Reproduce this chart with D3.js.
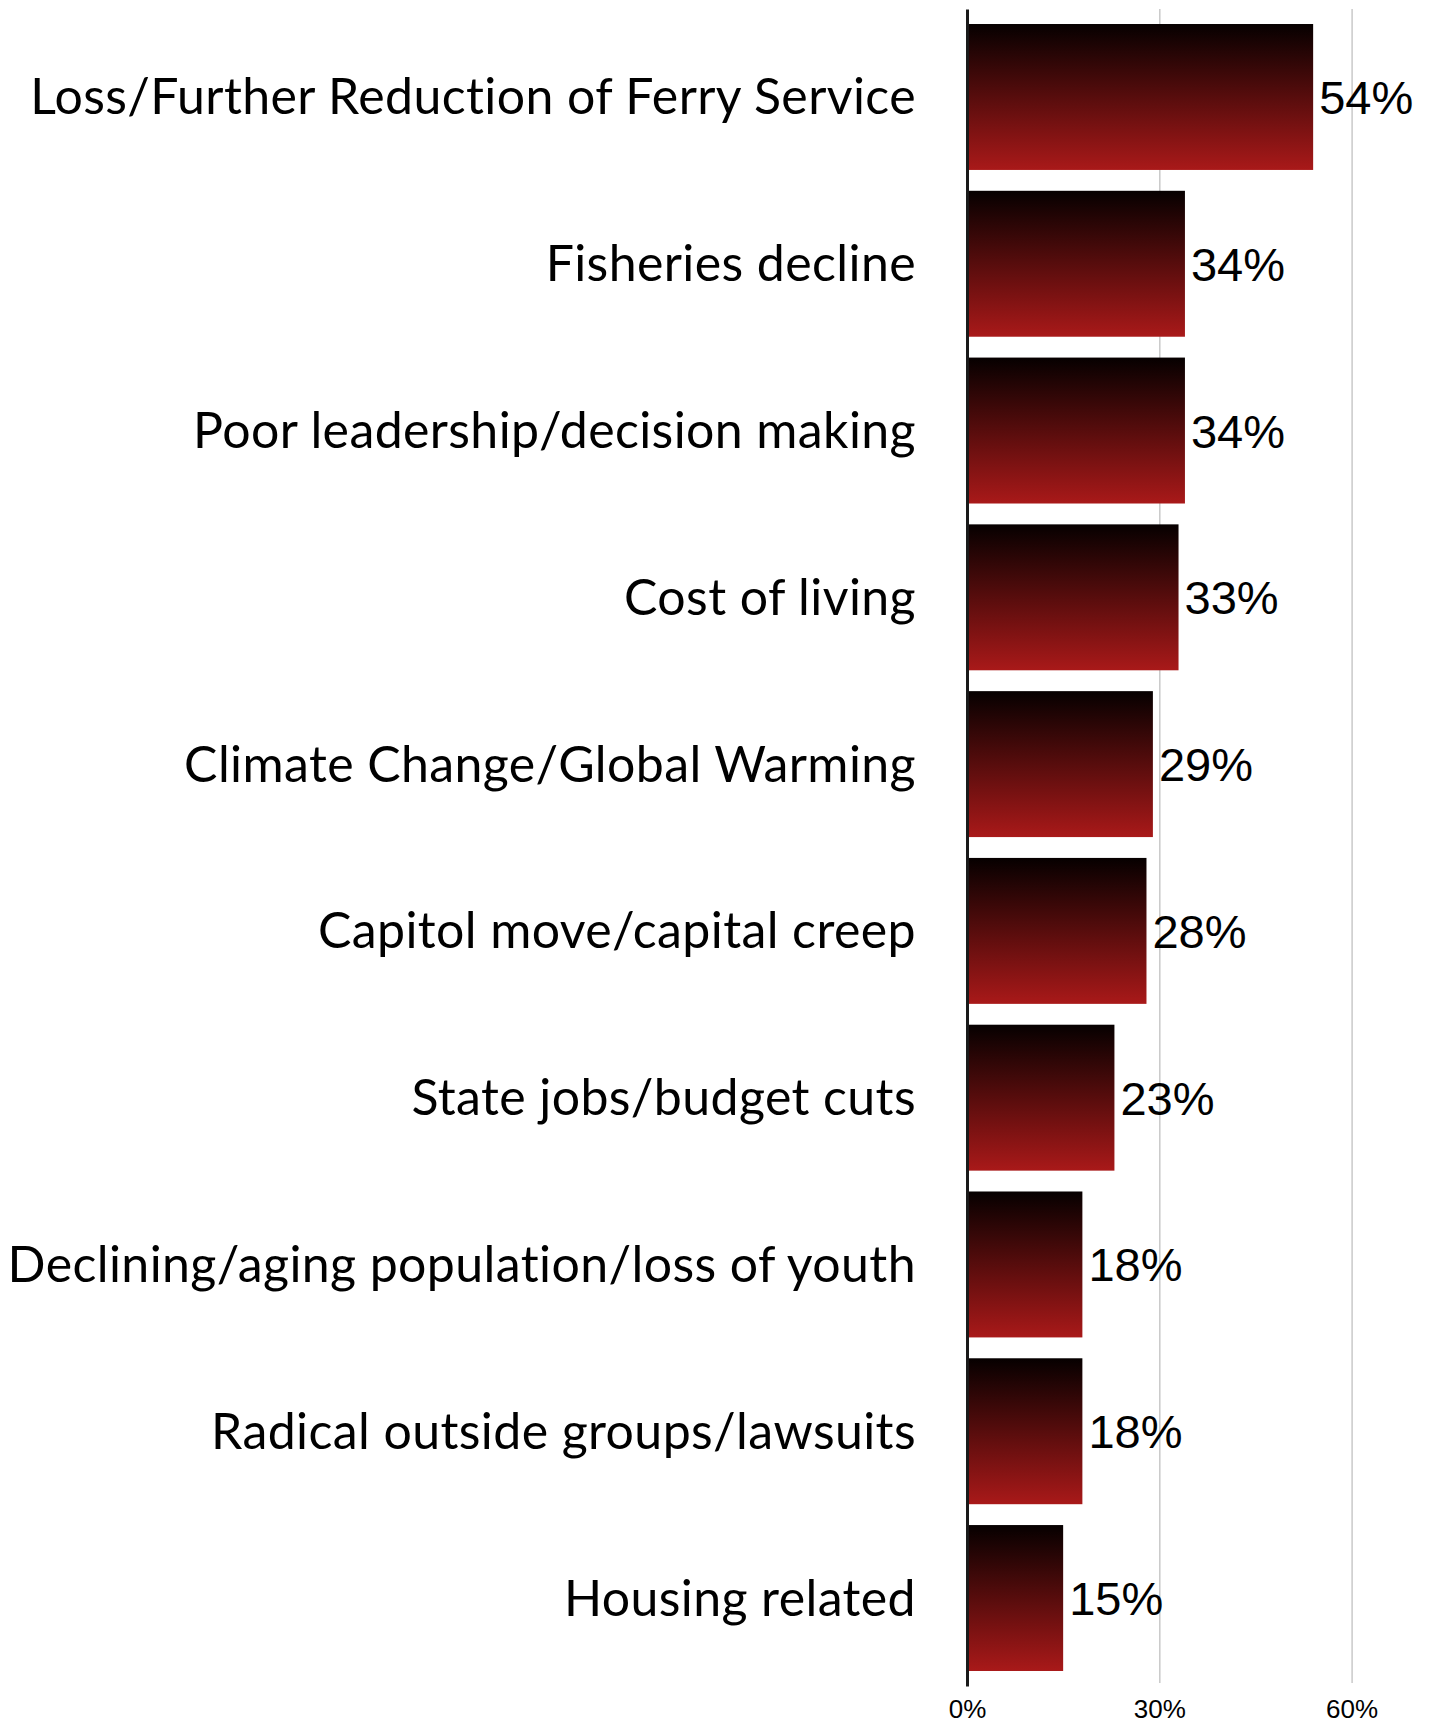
<!DOCTYPE html>
<html>
<head>
<meta charset="utf-8">
<script src="https://cdn.jsdelivr.net/npm/d3@7"></script>
<style>
  html, body { margin: 0; padding: 0; background: #ffffff; }
  svg { display: block; }
</style>
</head>
<body>
<div id="chart"></div>
<script>
// Issue categories, top to bottom
const categories = [
  "Loss/Further Reduction of Ferry Service",
  "Fisheries decline",
  "Poor leadership/decision making",
  "Cost of living",
  "Climate Change/Global Warming",
  "Capitol move/capital creep",
  "State jobs/budget cuts",
  "Declining/aging population/loss of youth",
  "Radical outside groups/lawsuits",
  "Housing related"
];

// Share of respondents naming each issue (%)
const shares = [54, 34, 34, 33, 29, 28, 23, 18, 18, 15];

// Axis ticks (%)
const axisTicks = [0, 30, 60];
const gridTicks = [30, 60];

const width = 1431, height = 1723;
const plotLeft = 967, plotTop = 9, plotBottom = 1686;

const svg = d3.select("#chart").append("svg")
  .attr("width", width)
  .attr("height", height);

// Vertical dark-to-red fill used by every bar
const grad = svg.append("defs").append("linearGradient")
  .attr("id", "barFill")
  .attr("x1", 0).attr("y1", 0).attr("x2", 0).attr("y2", 1);
grad.append("stop").attr("offset", "0%").attr("stop-color", "#060000");
grad.append("stop").attr("offset", "100%").attr("stop-color", "#a91919");

const x = d3.scaleLinear()
  .domain([0, 65])
  .range([plotLeft, plotLeft + 65 * 6.41]);

const y = d3.scaleBand()
  .domain(categories)
  .range([plotTop, plotBottom])
  .paddingInner(0.125)
  .paddingOuter(0.09);

// Light vertical gridlines at 30% and 60%
const grid = svg.append("g")
  .attr("transform", `translate(0,${plotBottom - 3})`)
  .call(d3.axisBottom(x).tickValues(gridTicks).tickSize(-(plotBottom - 3 - plotTop)).tickFormat(""));
grid.select(".domain").remove();
grid.selectAll(".tick line").attr("stroke", "#c9c9c9").attr("stroke-width", 1.5);

// Bars
svg.append("g").selectAll("rect")
  .data(shares)
  .join("rect")
  .attr("x", x(0) + 1.5)
  .attr("y", (d, i) => y(categories[i]))
  .attr("width", d => x(d) - x(0) - 1.5)
  .attr("height", y.bandwidth())
  .attr("fill", "url(#barFill)");

// Value labels at the bar ends
svg.append("g").selectAll("text")
  .data(shares)
  .join("text")
  .attr("x", d => x(d) + 6)
  .attr("y", (d, i) => y(categories[i]) + y.bandwidth() / 2 + 17)
  .attr("font-family", "'Liberation Sans', Arial, sans-serif")
  .attr("font-size", 47)
  .attr("fill", "#000")
  .text(d => d + "%");

// Category axis: baseline at 0% plus right-aligned issue names
const yAxis = svg.append("g")
  .attr("transform", `translate(${plotLeft},0)`)
  .call(d3.axisLeft(y).tickSize(0).tickSizeOuter(0).tickPadding(51));
yAxis.select(".domain").attr("stroke", "#1a1a1a").attr("stroke-width", 3);
yAxis.selectAll(".tick text")
  .attr("font-family", "Lato, 'Noto Sans', sans-serif")
  .attr("font-size", 50)
  .attr("letter-spacing", "0.4px")
  .attr("fill", "#000")
  .attr("dy", "0.35em");

// Percentage axis along the bottom
const xAxis = svg.append("g")
  .attr("transform", `translate(0,${plotBottom})`)
  .call(d3.axisBottom(x).tickValues(axisTicks).tickSize(0).tickPadding(14).tickFormat(d => d + "%"));
xAxis.select(".domain").remove();
xAxis.selectAll(".tick text")
  .attr("font-family", "'Liberation Sans', Arial, sans-serif")
  .attr("font-size", 26)
  .attr("fill", "#000");
</script>
</body>
</html>
